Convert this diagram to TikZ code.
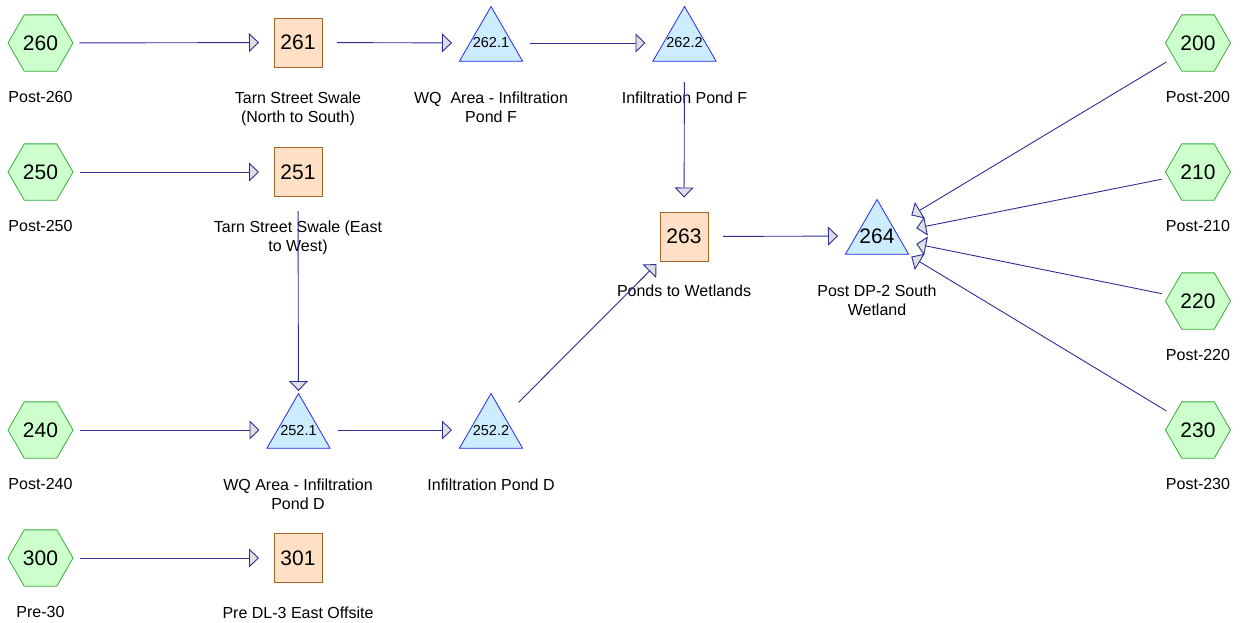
\documentclass[tikz,border=0pt]{standalone}
\usepackage{fontspec}
\setmainfont{Liberation Sans}
\usetikzlibrary{shapes.geometric,arrows.meta}
\definecolor{lnc}{RGB}{45,45,150}
\definecolor{headf}{RGB}{222,222,228}
\definecolor{hexf}{RGB}{204,255,204}
\definecolor{hexd}{RGB}{60,170,60}
\definecolor{boxf}{RGB}{255,224,196}
\definecolor{boxd}{RGB}{165,100,45}
\definecolor{trif}{RGB}{204,236,255}
\definecolor{trid}{RGB}{40,40,240}
\begin{document}
\begin{tikzpicture}[x=1pt,y=-1pt,
  hexn/.style={regular polygon, regular polygon sides=6, minimum size=65pt, inner sep=0pt,
    draw=hexd, line width=0.8pt, fill=hexf, font=\fontsize{21}{24}\selectfont},
  boxn/.style={rectangle, minimum width=48pt, minimum height=49pt, inner sep=0pt,
    draw=boxd, line width=0.8pt, fill=boxf, font=\fontsize{21}{24}\selectfont},
  trin/.style={regular polygon, regular polygon sides=3, minimum size=73pt, inner sep=0pt,
    draw=trid, line width=0.8pt, fill=trif},
  tnum/.style={font=\fontsize{14.5}{16}\selectfont, inner sep=0pt},
  bnum/.style={font=\fontsize{21}{24}\selectfont, inner sep=0pt},
  lbl/.style={anchor=north, inner sep=0pt, align=center, font=\fontsize{16}{19.5}\selectfont},
  flow/.style={draw=lnc, line width=0.9pt, shorten <=39pt, shorten >=39pt,
    -{Triangle[length=10pt,width=19pt,fill=headf]}},
  flowr/.style={flow, shorten <=37pt, shorten >=40pt}
]
\useasboundingbox (0,0) rectangle (1242,622);

% sources (hexagons)
\node[hexn] (n260) at (40.5,43) {260};
\node[hexn] (n250) at (40.5,172) {250};
\node[hexn] (n240) at (40.5,430) {240};
\node[hexn] (n300) at (40.5,558) {300};
\node[hexn] (n200) at (1198,43) {200};
\node[hexn] (n210) at (1198,172) {210};
\node[hexn] (n220) at (1198,301) {220};
\node[hexn] (n230) at (1198,430) {230};

% boxes
\node[boxn] (n261) at (298,42.5) {261};
\node[boxn] (n251) at (298,172) {251};
\node[boxn] (n301) at (298,558) {301};
\node[boxn] (n263) at (684,236.5) {263};

% triangles
\node[trin, label={[tnum]center:262.1}] (n2621) at (491,43) {};
\node[trin, label={[tnum]center:262.2}] (n2622) at (684.5,43) {};
\node[trin, label={[tnum]center:252.1}] (n2521) at (298.5,430) {};
\node[trin, label={[tnum]center:252.2}] (n2522) at (491,430) {};
\node[trin, label={[bnum]center:264}] (n264) at (877,236) {};

% labels
\node[lbl] (l260) at (40.5,91.5) {Post-260};
\node[lbl] (l261) at (298,91.5) {Tarn Street Swale\\(North to South)};
\node[lbl] (l2621) at (491,91.5) {WQ\ \ Area - Infiltration\\Pond F};
\node[lbl] (l2622) at (684.5,91.5) {Infiltration Pond F};
\node[lbl] (l200) at (1198,91.5) {Post-200};
\node[lbl] (l250) at (40.5,220.5) {Post-250};
\node[lbl] (l251) at (298,220.5) {Tarn Street Swale (East\\to West)};
\node[lbl] (l210) at (1198,220.5) {Post-210};
\node[lbl] (l263) at (684,284.5) {Ponds to Wetlands};
\node[lbl] (l264) at (877,284.5) {Post DP-2 South\\Wetland};
\node[lbl] (l220) at (1198,349.5) {Post-220};
\node[lbl] (l240) at (40.5,478.5) {Post-240};
\node[lbl] (l2521) at (298,478.5) {WQ Area - Infiltration\\Pond D};
\node[lbl] (l2522) at (491,478.5) {Infiltration Pond D};
\node[lbl] (l230) at (1198,478.5) {Post-230};
\node[lbl] (l300) at (40.5,606.5) {Pre-30};
\node[lbl] (l301) at (298,606.5) {Pre DL-3 East Offsite};

% connectors
\draw[flow] (n260.center) -- (n261.center);
\draw[flow] (n261.center) -- (n2621.center);
\draw[flow] (n2621.center) -- (n2622.center);
\draw[flow] (n2622.center) -- (n263.center);
\draw[flow] (n250.center) -- (n251.center);
\draw[flow] (n251.center) -- (n2521.center);
\draw[flow] (n240.center) -- (n2521.center);
\draw[flow] (n2521.center) -- (n2522.center);
\draw[flow] (n2522.center) -- (n263.center);
\draw[flow] (n263.center) -- (n264.center);
\draw[flow] (n300.center) -- (n301.center);
\draw[flowr] (n200.center) -- (n264.center);
\draw[flowr] (n210.center) -- (n264.center);
\draw[flowr] (n220.center) -- (n264.center);
\draw[flowr] (n230.center) -- (n264.center);
\end{tikzpicture}
\end{document}
